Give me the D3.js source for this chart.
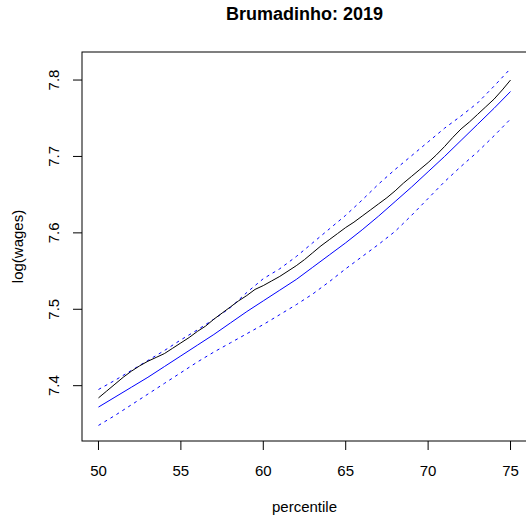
<!DOCTYPE html>
<html>
<head>
<meta charset="utf-8">
<script src="https://cdn.jsdelivr.net/npm/d3@7"></script>
<style>
  html,body{margin:0;padding:0;background:#fff;}
  svg{display:block;font-family:"Liberation Sans",Arial,Helvetica,sans-serif;}
</style>
</head>
<body>
<svg id="chart" width="526" height="525"></svg>
<script>
// percentiles 50..75
const pct = d3.range(50, 76);
const fitted = [7.372,7.385,7.398,7.411,7.425,7.439,7.453,7.467,7.482,7.497,7.511,7.525,7.539,
  7.555,7.571,7.587,7.604,7.622,7.641,7.660,7.680,7.700,7.721,7.742,7.763,7.785];
const upper = [7.395,7.407,7.420,7.433,7.446,7.460,7.473,7.487,7.502,7.522,7.540,7.553,7.569,
  7.587,7.605,7.623,7.643,7.664,7.683,7.701,7.719,7.737,7.753,7.770,7.792,7.815];
const lower = [7.348,7.361,7.375,7.389,7.403,7.417,7.431,7.444,7.456,7.468,7.480,7.493,7.506,
  7.520,7.536,7.553,7.569,7.585,7.602,7.623,7.645,7.667,7.687,7.706,7.727,7.749];
// observed, half-percentile steps
const obsPct = d3.range(50, 75.01, 0.5);
const observed = [7.384,7.393,7.402,7.411,7.419,7.426,7.432,7.437,7.442,7.449,7.456,7.463,7.471,
  7.478,7.487,7.495,7.503,7.511,7.518,7.526,7.531,7.537,7.543,7.550,7.557,7.565,7.574,7.583,
  7.591,7.599,7.607,7.614,7.622,7.630,7.638,7.646,7.655,7.665,7.674,7.683,7.692,7.702,7.713,
  7.725,7.736,7.745,7.755,7.765,7.775,7.787,7.800];
const xTicks = [50,55,60,65,70,75];
const yTicks = [7.4,7.5,7.6,7.7,7.8];

const svg = d3.select('#chart');
const L=82, R=527, T=52, B=441;
const x = d3.scaleLinear().domain([49,76]).range([L,R]);
const y = d3.scaleLinear().domain([7.3276,7.8367]).range([B,T]);

const line = d3.line().x(d=>x(d[0])).y(d=>y(d[1]));
const zip = (a,b)=>a.map((v,i)=>[v,b[i]]);

// series
svg.append('path').datum(zip(pct,upper)).attr('d',line)
  .attr('fill','none').attr('stroke','#0000ff').attr('stroke-width',1).attr('stroke-dasharray','3,4');
svg.append('path').datum(zip(pct,lower)).attr('d',line)
  .attr('fill','none').attr('stroke','#0000ff').attr('stroke-width',1).attr('stroke-dasharray','3,4');
svg.append('path').datum(zip(pct,fitted)).attr('d',line)
  .attr('fill','none').attr('stroke','#0000ff').attr('stroke-width',1);
svg.append('path').datum(zip(obsPct,observed)).attr('d',line)
  .attr('fill','none').attr('stroke','#000').attr('stroke-width',1);

// box
svg.append('rect').attr('x',L).attr('y',T).attr('width',R-L).attr('height',B-T)
  .attr('fill','none').attr('stroke','#000').attr('stroke-width',1);

// x axis
const gx = svg.append('g');
gx.selectAll('line').data(xTicks).join('line')
  .attr('x1',d=>x(d)).attr('x2',d=>x(d)).attr('y1',B).attr('y2',B+9).attr('stroke','#000');
gx.selectAll('text').data(xTicks).join('text')
  .attr('x',d=>x(d)).attr('y',476).attr('text-anchor','middle').attr('font-size',15).text(d=>d);

// y axis
const gy = svg.append('g');
gy.selectAll('line').data(yTicks).join('line')
  .attr('x1',L-9).attr('x2',L).attr('y1',d=>y(d)).attr('y2',d=>y(d)).attr('stroke','#000');
gy.selectAll('text').data(yTicks).join('text')
  .attr('transform',d=>`translate(59,${y(d)}) rotate(-90)`)
  .attr('text-anchor','middle').attr('font-size',15).text(d=>d.toFixed(1));

// labels
svg.append('text').attr('x',(L+R)/2).attr('y',20).attr('text-anchor','middle')
  .attr('font-size',18).attr('font-weight','bold').text('Brumadinho: 2019');
svg.append('text').attr('x',(L+R)/2).attr('y',512).attr('text-anchor','middle')
  .attr('font-size',15).text('percentile');
svg.append('text').attr('transform',`translate(23,${(T+B)/2}) rotate(-90)`)
  .attr('text-anchor','middle').attr('font-size',15).text('log(wages)');
</script>
</body>
</html>
